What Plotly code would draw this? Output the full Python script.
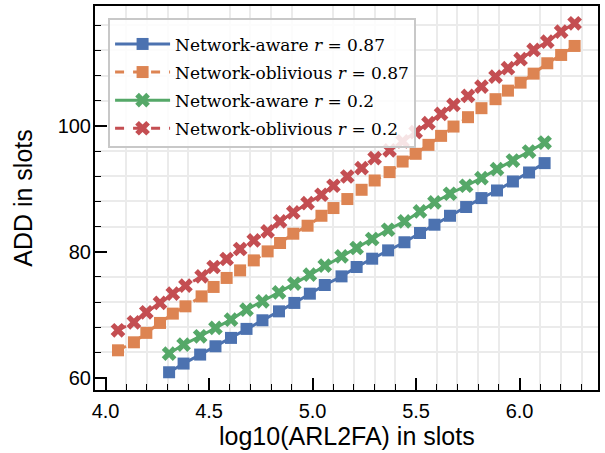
import plotly.graph_objects as go

# x positions (log10 ARL2FA) for the network-aware runs
x_aware = [4.307, 4.377, 4.457, 4.531, 4.606, 4.681, 4.758, 4.838, 4.912, 4.987,
           5.059, 5.140, 5.213, 5.288, 5.365, 5.444, 5.519, 5.589, 5.664, 5.742,
           5.816, 5.891, 5.968, 6.046, 6.121]
# x positions for the network-oblivious runs
x_obliv = [4.060, 4.137, 4.197, 4.263, 4.325, 4.386, 4.464, 4.522, 4.585, 4.650,
           4.716, 4.783, 4.843, 4.907, 4.976, 5.043, 5.101, 5.168, 5.237, 5.300,
           5.372, 5.435, 5.498, 5.560, 5.621, 5.681, 5.751, 5.816, 5.884, 5.944,
           6.005, 6.068, 6.134, 6.201, 6.266]

add_aware_087 = [60.84, 62.22, 63.65, 64.97, 66.30, 67.73, 69.10, 70.52, 71.86, 73.33,
                 74.71, 76.08, 77.57, 78.89, 80.21, 81.50, 82.97, 84.29, 85.71, 87.10,
                 88.52, 89.73, 91.16, 92.59, 94.08]
add_obliv_087 = [64.33, 65.60, 67.10, 68.68, 70.16, 71.32, 72.90, 74.40, 75.83, 77.03,
                 78.62, 80.05, 81.38, 82.86, 84.13, 85.71, 86.94, 88.37, 89.84, 91.32,
                 92.65, 94.33, 95.56, 96.98, 98.41, 99.89, 101.38, 102.81, 104.24, 105.60,
                 106.87, 108.30, 109.95, 111.27, 112.70]
add_aware_02 = [63.81, 65.24, 66.56, 67.89, 69.21, 70.79, 72.11, 73.54, 74.92, 76.35,
                77.78, 79.25, 80.59, 82.02, 83.49, 84.81, 86.40, 87.83, 89.21, 90.48,
                91.70, 93.13, 94.49, 95.92, 97.35]
add_obliv_02 = [67.51, 68.78, 70.37, 71.86, 73.33, 74.60, 76.08, 77.57, 78.84, 80.43,
                81.79, 83.22, 84.81, 86.24, 87.73, 89.05, 90.48, 91.95, 93.29, 94.87,
                96.11, 97.54, 99.00, 100.43, 101.90, 103.33, 104.76, 106.24, 107.83, 109.16,
                110.59, 112.06, 113.38, 114.97, 116.30]

names = ["Network-aware <i>r</i> = 0.87", "Network-oblivious <i>r</i> = 0.87",
         "Network-aware <i>r</i> = 0.2", "Network-oblivious <i>r</i> = 0.2"]
colors = ["#4C72B0", "#DD8452", "#55A868", "#C44E52"]
x_title = "log10(ARL2FA) in slots"
y_title = "ADD in slots"

series = [
    (x_aware, add_aware_087, "square", "solid"),
    (x_obliv, add_obliv_087, "square", "dash"),
    (x_aware, add_aware_02, "x", "solid"),
    (x_obliv, add_obliv_02, "x", "dash"),
]

fig = go.Figure()
for i, ((xs, ys, sym, dash), nm, c) in enumerate(zip(series, names, colors)):
    fig.add_trace(go.Scatter(
        x=xs, y=ys, mode="lines+markers", name=nm, legendgroup=f"g{i}",
        line=dict(color=c, width=3, dash=dash),
        marker=dict(symbol=sym, size=12 if sym == "square" else 13, color=c,
                    line=dict(width=0)),
    ))

sans = "Liberation Sans, Arial, sans-serif"
axis_common = dict(
    showline=True, linewidth=2, linecolor="black", mirror=True,
    ticks="inside", ticklen=12, tickwidth=1.5, tickcolor="black",
    showgrid=False, zeroline=False, automargin=False,
    tickfont=dict(family=sans, size=20, color="black"),
)

fig.update_layout(
    width=605, height=453,
    margin=dict(l=95, r=7, t=6, b=63),
    plot_bgcolor="white", paper_bgcolor="white",
    xaxis=dict(
        range=[3.949, 6.379], tick0=4.0, dtick=0.5, tickformat=".1f",
        ticklabelstandoff=2,
        minor=dict(dtick=0.1, ticks="inside", ticklen=6, tickwidth=1.2, tickcolor="black",
                   showgrid=True, gridcolor="#ebebeb", gridwidth=1.5),
        **axis_common,
    ),
    yaxis=dict(
        range=[58.02, 119.05], tick0=0, dtick=20, ticklabelstandoff=-2,
        minor=dict(dtick=4, ticks="inside", ticklen=6, tickwidth=1.2, tickcolor="black",
                   showgrid=True, gridcolor="#ebebeb", gridwidth=1.5),
        title=dict(text=y_title, standoff=18,
                   font=dict(family=sans, size=25, color="black")),
        **axis_common,
    ),
    legend=dict(
        x=0.026, y=0.969, xanchor="left", yanchor="top",
        bgcolor="rgba(255,255,255,0.85)", bordercolor="#c8c8c8", borderwidth=2,
        font=dict(family="DejaVu Serif, serif", size=17, color="black"),
        tracegroupgap=3, itemwidth=55,
        title=dict(text=" ", font=dict(size=5)),
    ),
    annotations=[dict(
        text=x_title, xref="paper", yref="paper", x=0.5, y=-0.12,
        xanchor="center", yanchor="middle", showarrow=False,
        font=dict(family=sans, size=25, color="black"),
    )],
    showlegend=True,
)

fig.write_html("out.html", post_script="document.body.style.margin='0';",
               config={"displayModeBar": False})
